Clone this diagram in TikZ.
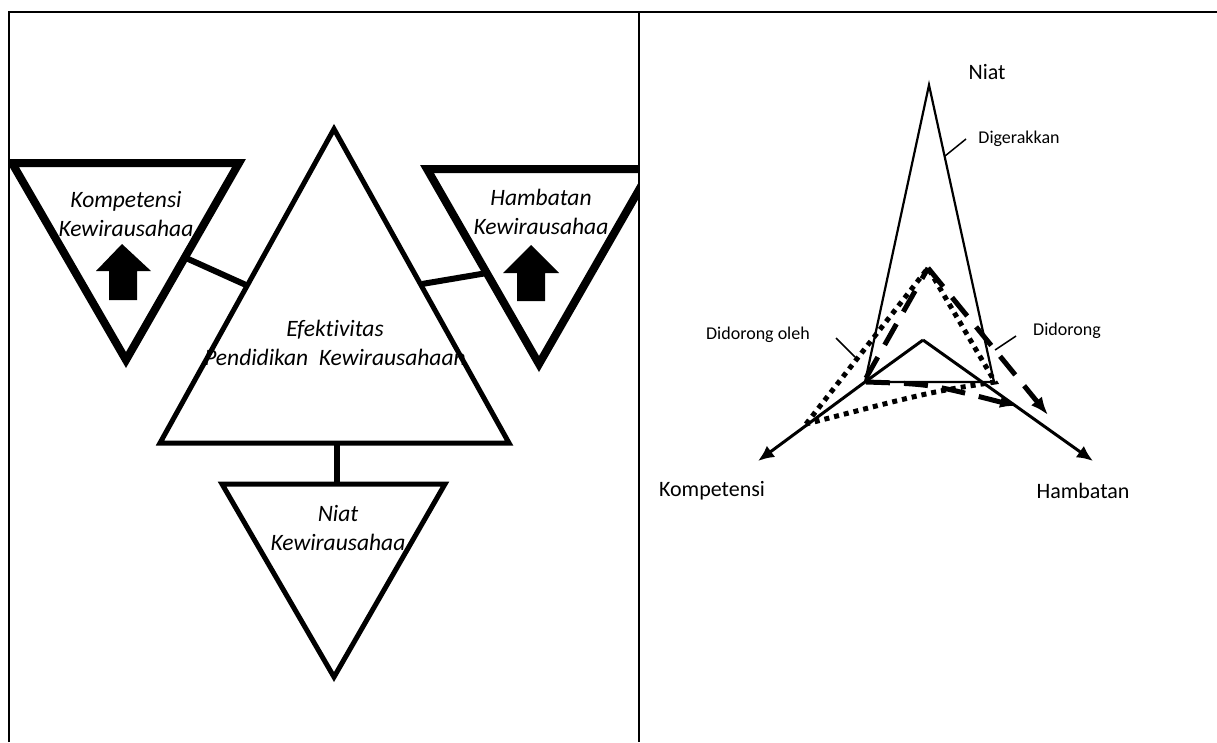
\documentclass[tikz,border=0pt]{standalone}
\usepackage{fontspec}
\setmainfont{Carlito}[Ligatures=NoCommon]
\usetikzlibrary{arrows.meta}
\tikzset{
  thicktri/.style={draw, line width=8pt, line join=miter},
  midtri/.style={draw, line width=5pt, line join=miter},
  link/.style={draw, line width=6pt},
  boxtext/.style={font=\fontsize{23.5}{29}\selectfont\itshape, align=center, inner sep=0pt},
  axislabel/.style={font=\fontsize{22}{25}\selectfont, inner sep=0pt},
  smalllabel/.style={font=\fontsize{18}{21}\selectfont, inner sep=0pt},
  axis/.style={line width=3pt, -{Latex[length=16pt,width=14pt]}},
  leader/.style={line width=1.5pt},
  dashline/.style={line width=5pt, dash pattern=on 24pt off 14pt},
  dotline/.style={line width=5pt, dash pattern=on 5pt off 5pt},
}
\begin{document}
\begin{tikzpicture}[x=1pt,y=-1pt]
            \useasboundingbox (0,0) rectangle (1217,742);
            % Frame
            \draw[line width=2pt] (9,742) -- (9,12) -- (1217,12);
            \draw[line width=2pt] (639,12) -- (639,742);
            % Left panel
            \begin{scope}
                \clip (9,12) rectangle (639,742);
                \node[boxtext] (kompt) at (126,214) {Kompetensi\\Kewirausahaa};
                \node[boxtext] (hambt) at (541,212) {Hambatan\\Kewirausahaa};
                \node[boxtext] (efekt) at (335,343) {Efektivitas\\Pendidikan~~Kewirausahaan};
                \node[boxtext] (niatt) at (338,528) {Niat\\Kewirausahaa};
                \draw[thicktri] (12,163) -- (239,163) -- (126,360) -- cycle;
                \draw[thicktri] (427,169) -- (651,169) -- (539,364) -- cycle;
                \draw[midtri] (334,129) -- (509,443) -- (160,443) -- cycle;
                \draw[midtri] (222,484) -- (445,484) -- (334,677) -- cycle;
                % block arrows
                \fill (96,271) -- (122,244) -- (151,271) -- (137,271) -- (137,300)
                    -- (109,300) -- (109,271) -- cycle;
                \fill (503,273) -- (531,245) -- (559,273) -- (545,273) -- (545,301)
                    -- (517,301) -- (517,273) -- cycle;
                % links
                \coordinate (k1) at (186,258);
                \coordinate (k2) at (246,285);
                \coordinate (h1) at (422,284);
                \coordinate (h2) at (487,273);
                \coordinate (n1) at (337,443);
                \coordinate (n2) at (337,484);
                \draw[link] (k1) -- (k2);
                \draw[link] (h1) -- (h2);
                \draw[link] (n1) -- (n2);
            \end{scope}
            % Right panel
            \coordinate (top) at (929,85);
            \coordinate (bl) at (865,382);
            \coordinate (br) at (994,382);
            \coordinate (mid) at (923,340);
            \coordinate (kend) at (758,461);
            \coordinate (hend) at (1093,461);
            \coordinate (peak) at (928,268);
            \node[axislabel] (niat) at (987,72) {Niat};
            \node[axislabel] (komp) at (712,491) {Kompetensi};
            \node[axislabel] (hamb) at (1083,491) {Hambatan};
            \node[smalllabel] (dige) at (1019,139) {Digerakkan};
            \node[smalllabel] (dido) at (758,335) {Didorong oleh};
            \node[smalllabel] (didr) at (1067,331) {Didorong};
            \draw[line width=2.2pt, line join=miter] (bl) -- (top) -- (br) -- (bl) -- cycle;
            \draw[axis] (bl) -- (kend);
            \draw[line width=3pt] (bl) -- (mid);
            \draw[axis] (mid) -- (hend);
            % dashed path
            \draw[dashline] (866,378) -- (peak);
            \draw[dashline, -{Latex[length=18pt,width=14pt]}] (peak) -- (1048,415);
            \draw[dashline, -{Latex[length=16pt,width=12pt]}] (866,382) .. controls (930,384) .. (1016,406);
            % dotted path
            \draw[dotline] (806,424) -- (peak) -- (995,382)
                .. controls (930,392) .. (806,424);
            % leaders
            \draw[leader] (945,156) -- (966,139);
            \draw[leader] (836,338) -- (855,357);
            \draw[leader] (995,350) -- (1016,336);
        \end{tikzpicture}
\end{document}
